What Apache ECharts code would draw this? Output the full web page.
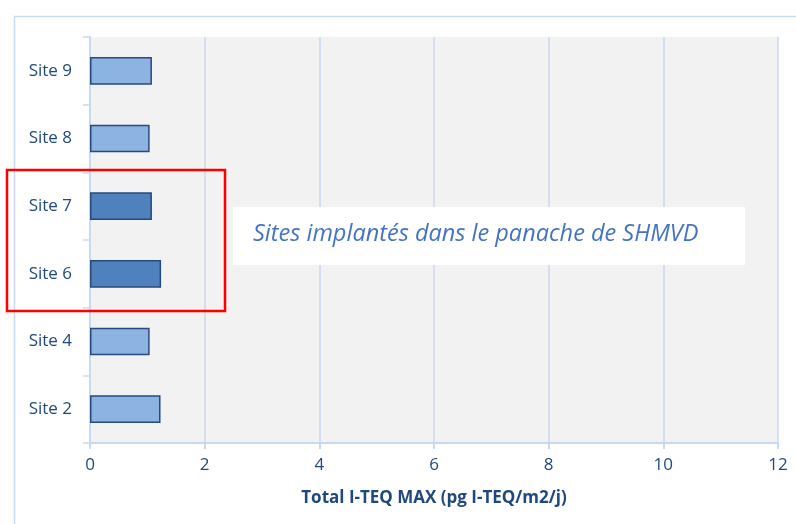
<!DOCTYPE html>
<html>
<head>
<meta charset="utf-8">
<script src="https://cdn.jsdelivr.net/npm/echarts@6/dist/echarts.min.js"></script>
<style>html,body{margin:0;padding:0;background:#fff}#c{width:796px;height:524px}</style>
</head>
<body>
<div id="c"></div>
<script>
const categories = ['Site 2', 'Site 4', 'Site 6', 'Site 7', 'Site 8', 'Site 9'];
const values = [1.23, 1.04, 1.24, 1.08, 1.04, 1.08];
const inPlume = [false, false, true, true, false, false];
const xTicks = [0, 2, 4, 6, 8, 10, 12];
const axisTitle = 'Total I-TEQ MAX (pg I-TEQ/m2/j)';
const noteText = 'Sites implantés dans le panache de SHMVD';

const font = '"Open Sans", Lato, sans-serif';
const chart = echarts.init(document.getElementById('c'));
chart.setOption({
  animation: false,
  backgroundColor: '#ffffff',
  grid: { left: 90, right: 18, top: 37, bottom: 81, show: true, backgroundColor: '#f2f2f2', borderWidth: 0 },
  xAxis: {
    type: 'value', min: xTicks[0], max: xTicks[xTicks.length - 1], interval: 2,
    name: axisTitle, nameLocation: 'middle', nameGap: 47,
    nameTextStyle: { color: '#1f497d', fontSize: 17, fontWeight: 'bold', fontFamily: font },
    axisLine: { show: true, lineStyle: { color: '#c6d9f1', width: 2 } },
    axisTick: { show: true, length: 6, lineStyle: { color: '#c6d9f1', width: 2 } },
    axisLabel: { color: '#1f497d', fontSize: 17, fontFamily: font, margin: 14 },
    splitLine: { show: true, lineStyle: { color: '#c6d9f1', width: 1.5 } }
  },
  yAxis: {
    type: 'category', data: categories,
    axisLine: { show: true, lineStyle: { color: '#c6d9f1', width: 2 } },
    axisTick: { show: true, length: 7, lineStyle: { color: '#c6d9f1', width: 1.5 } },
    axisLabel: { color: '#1f497d', fontSize: 17, fontFamily: font, margin: 18 },
    splitLine: { show: false }
  },
  series: [{
    type: 'bar',
    barWidth: '41%',
    data: values.map((v, i) => ({
      value: v,
      itemStyle: { color: inPlume[i] ? '#4f81bd' : '#8db3e2', borderColor: '#254a7d', borderWidth: 1.5 }
    }))
  }],
  graphic: [
    { type: 'rect', z: 0, silent: true, shape: { x: 14.5, y: 16.5, width: 820, height: 540 },
      style: { fill: 'none', stroke: '#c6d9f1', lineWidth: 1.5 } },
    { type: 'rect', z: 100, shape: { x: 233, y: 207, width: 512, height: 58 },
      style: { fill: '#ffffff' } },
    { type: 'text', z: 101, left: 253, top: 223,
      style: { text: noteText, fill: '#4472c4', font: 'italic 23.5px ' + font } },
    { type: 'rect', z: 102, shape: { x: 7, y: 170, width: 218, height: 141 },
      style: { fill: 'none', stroke: '#ff0000', lineWidth: 2.5 } }
  ]
});
</script>
</body>
</html>
